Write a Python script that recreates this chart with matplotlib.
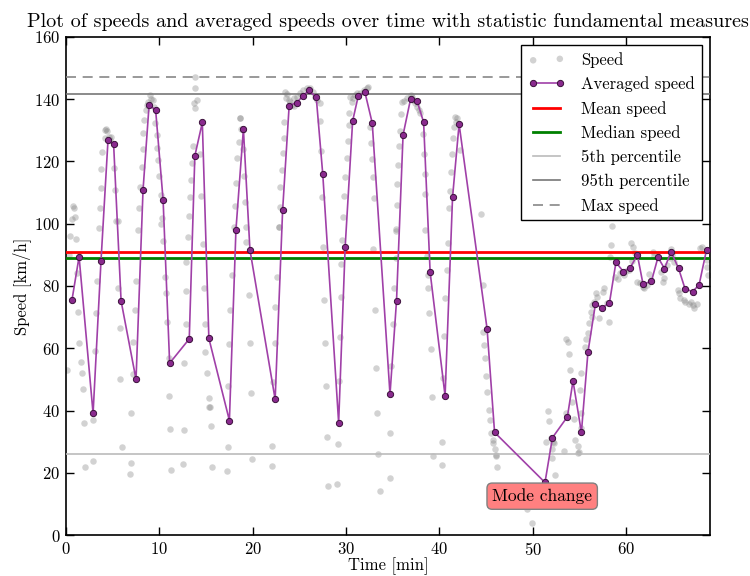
import matplotlib
matplotlib.use("Agg")
import matplotlib.pyplot as plt

plt.rcParams['font.family'] = 'serif'
plt.rcParams['font.serif'] = ['cmr10']
plt.rcParams['mathtext.fontset'] = 'cm'
plt.rcParams['axes.formatter.use_mathtext'] = True
plt.rcParams['axes.unicode_minus'] = False

# Raw speed samples (time [min], speed [km/h])
speed_t = [0.8, 0.85, 0.6, 1.0, 0.4, 1.1, 0.35, 1.2, 1.3, 1.4, 1.6, 1.7, 1.8, 0.15, 1.9, 2.0, 2.9, 2.9,
           3.1, 3.2, 3.35, 3.5, 3.6, 3.75, 3.8, 3.9, 4.2, 4.3, 4.4, 4.2, 4.6, 4.8, 4.7,
           5.1, 5.3, 5.4, 5.55, 5.6, 5.8, 5.8, 6.0, 7.0, 7.0, 6.9, 7.2, 7.2, 7.4, 7.5, 7.75,
           7.8, 7.9, 8.1, 8.2, 8.2, 8.4, 8.6, 8.65, 8.8, 9.1, 9.0,
           9.35, 9.4, 9.55, 9.7, 9.75, 9.9, 10.0, 10.15, 10.25, 10.2, 10.4, 10.6, 10.7, 10.8, 11.0, 11.0, 11.1, 11.25,
           12.6, 12.5, 12.6, 12.8, 12.9, 12.9, 13.1,
           13.2, 13.3, 13.4, 13.5, 13.6, 13.8, 13.7, 14.0, 13.8, 13.8, 14.4, 14.5,
           14.7, 14.8, 14.9, 14.9, 15.1, 15.3, 15.3, 15.4, 15.5, 15.6,
           17.2, 17.3, 17.4, 17.5, 17.6, 17.8,
           18.0, 18.1, 18.2, 18.3, 18.5, 18.7, 18.6, 18.65, 19.0, 19.0, 19.1, 19.2, 19.3, 19.3, 19.6, 19.7, 19.8, 19.9,
           22.1, 22.05, 22.2, 22.4, 22.4, 22.6, 22.8,
           22.8, 22.9, 22.95, 23.1, 23.2, 23.3, 23.3, 23.6, 23.5, 23.7, 23.9, 24.0, 24.2, 24.4, 24.4, 24.7, 25.1, 25.4,
           25.8, 26.1, 26.5, 26.7, 26.9, 27.2, 27.2, 27.3, 27.4,
           27.5, 27.6, 27.7, 27.8, 27.9, 28.1, 29.0, 29.1, 29.2, 29.3, 29.4, 29.5, 29.6,
           29.7, 29.8, 29.9, 30.1, 30.2, 30.3, 30.3, 30.4, 30.6, 30.7, 30.9, 31.2, 31.5, 31.9, 32.2, 32.3,
           32.6, 32.7, 32.8, 32.9, 32.95, 32.9, 33.1, 33.2, 33.3, 33.4, 33.6,
           34.65, 34.7, 34.8, 35.0, 35.1, 35.3, 35.3,
           35.3, 35.4, 35.5, 35.6, 35.7, 35.8, 35.9, 36.0, 36.2, 36.5, 36.9, 37.1, 37.2, 37.4, 37.6, 37.8, 37.9,
           38.2, 38.3, 38.4, 38.5, 38.5, 38.7, 38.8, 38.8, 38.9, 39.1, 39.2, 39.3,
           40.3, 40.3, 40.4, 40.5, 40.6, 40.8, 40.9,
           41.0, 41.1, 41.2, 41.3, 41.4, 41.6, 41.7, 41.9, 41.8, 42.2, 44.5,
           44.7, 44.7, 44.8, 44.9, 45.0, 45.1, 45.3, 45.4, 45.5, 45.7, 45.7, 45.9, 46.0, 46.1, 46.2, 46.4,
           49.4, 49.9, 51.6, 51.7, 51.4, 51.9, 52.2, 52.3, 52.1, 52.0, 52.4, 53.5, 53.3, 54.4, 54.5, 54.8, 54.8, 54.9,
           55.2, 55.2, 54.2,
           53.6, 53.8, 53.9, 54.0, 55.1, 55.2, 55.6, 55.7, 55.9, 56.0, 56.2, 56.3, 56.5, 56.8, 56.9, 56.3, 57.1, 57.6,
           57.5, 57.9, 58.2, 58.5, 58.4, 58.3,
           58.8, 59.1, 59.3, 59.6, 59.8, 60.0, 60.3, 60.5, 60.7, 60.9, 60.6,
           61.2, 61.5, 61.8, 61.9, 62.2, 62.4, 62.7, 62.9, 63.0, 63.3,
           63.7, 63.9, 64.1, 64.4, 64.7, 64.8, 64.9, 65.1, 65.5, 65.6, 65.8, 66.2, 66.3, 66.7, 66.9, 67.1, 67.3, 67.6,
           67.9, 68.1, 68.7, 68.7, 68.8]
speed_v = [105.8, 105.2, 101.5, 102, 96.2, 95.1, 90, 84.3, 71.7, 61.6, 55.5, 52, 46.8, 53, 36.1, 21.8, 37, 23.8,
           59.2, 71.4, 81.6, 98.7, 105, 111.5, 117.6, 123, 130.1, 130.4, 129.8, 127.4, 127.8, 128, 126.9,
           118, 110.7, 100.9, 101, 79.3, 66.4, 50, 28.2, 39.3, 23, 19.6, 51.6, 62.1, 72.3, 81.6, 98,
           105, 111.7, 118.1, 123.9, 129.1, 133.3, 136.5, 138.2, 139.2, 140.1, 141.4,
           139.8, 137.4, 132.3, 128.4, 124.2, 120.3, 115.4, 109.3, 101.7, 100, 94.5, 83, 77.6, 68.5, 56.8, 44.8, 34, 20.9,
           33.7, 22.8, 55.2, 67.7, 78.5, 87.8, 95.8,
           102.6, 108.7, 114.1, 119.4, 124.8, 137.3, 138.7, 139.8, 143.5, 147.0, 122.4, 109,
           93.5, 79.5, 67.8, 58.9, 52, 43.9, 41, 41, 35.1, 21.8,
           20.6, 28.4, 48, 61.4, 72.3, 83.5,
           99, 105.8, 113.2, 121, 126.3, 130.4, 133.9, 134.0, 130.1, 124, 115.2, 107, 99, 94.2, 77.1, 61.8, 45.5, 24.5,
           28.7, 22.2, 49.3, 61.6, 73.2, 82.8, 98.9,
           99.1, 105.5, 111.9, 117.3, 122.6, 127.6, 132.8, 140.3, 142.4, 141.6, 139.8, 139.2, 138.2, 137.8, 140.3, 140.8, 141.9, 143,
           143.5, 143.7, 142.4, 140.8, 139.8, 138.9, 133.1, 123.2, 108.5,
           92.4, 75.5, 61.8, 48, 31.6, 15.7, 16.4, 29.4, 49.6, 63.7, 76.6, 87, 94.8,
           102.3, 108.9, 115.1, 121, 126.4, 131.7, 135.5, 140.8, 139.2, 140.3, 141.4, 141.9, 142.1, 143, 143.5, 144,
           131.2, 125.9, 120.7, 115.1, 108.2, 92, 72.3, 53.8, 39.1, 26.2, 14.2,
           18.3, 32.7, 54.4, 67.7, 79.3, 88.9, 97.8,
           98.2, 106, 112.8, 118.9, 124.8, 129.9, 135.3, 139.2, 139.5, 140.3, 141.4, 140.8, 139.8, 138.7, 137.6, 136.5, 135.5,
           128.8, 122.4, 116, 109.5, 98, 89.6, 83.5, 79.3, 71.4, 59.7, 44.4, 25.4,
           30, 22.4, 50.3, 64, 76, 85.1, 93.9,
           105, 110.5, 116.5, 122.3, 127.6, 131.2, 134.4, 133.9, 132.8, 123.7, 103,
           80.3, 65.3, 61, 56.8, 51.1, 45.8, 40.2, 36.9, 32.9, 30.7, 29.5, 27.5, 25.7, 25.4, 21.9, 14.7,
           8.3, 3.8, 40, 36.7, 29.9, 31.1, 30, 29.5, 27.5, 24.6, 19.2, 39.3, 27.1, 37.2, 30.5, 28.6, 26.4, 26.8,
           39.1, 34.3, 42.8,
           62.9, 61.9, 58.2, 53, 46.6, 52, 60.5, 62.9, 65, 68, 71.7, 73.9, 75, 77.7, 76.6, 70.1, 69.8, 79.3,
           78.2, 74.6, 68.5, 99.3, 93.2, 89.4,
           83, 82.2, 84.1, 84.6, 83.5, 84.9, 85.1, 93.7, 92.6, 90.5, 88.1,
           81.4, 80.9, 79.8, 79.3, 80.3, 83.9, 81.9, 91, 89.6, 89.2,
           84.6, 81.4, 82.5, 86.8, 88.9, 91.9, 90, 87.8, 78.7, 77.6, 76, 75.5, 74.7, 74.1, 74.9, 73.8, 72.8, 74.3,
           92.3, 92.6, 88.4, 86.2, 83.5]

# Averaged speed
avg_t = [0.64, 1.4, 2.9, 3.75, 4.5, 5.1, 5.9, 7.5, 8.25, 8.9,
         9.6, 10.4, 11.1, 13.2, 13.8, 14.6, 15.3, 17.5, 18.2, 19.0,
         19.7, 22.4, 23.2, 23.9, 24.7, 25.4, 26.0, 26.8, 27.5, 29.2,
         29.9, 30.7, 31.3, 32.0, 32.8, 34.7, 35.4, 36.1, 36.9, 37.6,
         38.3, 39.0, 40.6, 41.4, 42.1, 45.1, 45.9, 51.3, 52.1, 53.7,
         54.3, 55.2, 55.9, 56.7, 57.4, 58.2, 58.9, 59.7, 60.4, 61.2,
         61.8, 62.7, 63.4, 64.1, 64.8, 65.6, 66.3, 67.1, 67.8, 68.6]
avg_v = [75.5, 89.4, 39.1, 88.1, 126.9, 125.5, 75.2, 50.0, 110.8, 138.2,
         136.5, 107.6, 55.2, 63.0, 121.8, 132.5, 63.2, 36.8, 98.0, 130.4,
         91.6, 43.6, 104.3, 137.9, 138.9, 141.0, 142.8, 140.6, 115.9, 36.1,
         92.6, 133.0, 141.0, 142.4, 132.3, 45.2, 75.3, 128.5, 140.0, 139.4,
         132.6, 84.4, 44.7, 108.5, 132.0, 66.2, 33.0, 16.9, 31.3, 38.0,
         49.5, 33.0, 58.7, 74.2, 73.0, 74.5, 87.6, 84.6, 85.8, 89.9,
         80.6, 81.5, 89.2, 85.6, 91.0, 85.7, 79.1, 78.2, 80.3, 91.6]

# Statistic measures
stat_labels = ['Mean speed', 'Median speed', '5th percentile', '95th percentile', 'Max speed']
stat_values = [90.9, 89.0, 26.0, 141.7, 147.1]

annot_text = 'Mode change'
annot_pos = (51.0, 12.5)

fig = plt.figure(figsize=(7.5, 5.76), dpi=100)
ax = fig.add_axes([0.088, 0.071, 0.859, 0.865])

ax.scatter(speed_t, speed_v, s=22, color='gray', alpha=0.35, linewidths=0, label='Speed', zorder=2)
ax.plot(avg_t, avg_v, '-o', color='#a040a8', lw=1.2, markersize=4.5,
        markerfacecolor='#8a2a8e', markeredgecolor='#3a103a', markeredgewidth=0.7,
        label='Averaged speed', zorder=4)
styles = [dict(color='red', lw=2), dict(color='green', lw=2),
          dict(color='#bbbbbb', lw=1.2), dict(color='#777777', lw=1.2),
          dict(color='#888888', lw=1.2, ls=(0, (6, 4)))]
for lab, val, st in zip(stat_labels, stat_values, styles):
    ax.axhline(val, label=lab, zorder=3, **st)

ax.text(annot_pos[0], annot_pos[1], annot_text, ha='center', va='center', fontsize=12.5,
        bbox=dict(boxstyle='round,pad=0.3', fc=(1, 0.5, 0.5), ec=(0.5, 0.5, 0.5)), zorder=6)

ax.set_xlim(0, 69)
ax.set_ylim(0, 160)
ax.set_xticks([0, 10, 20, 30, 40, 50, 60])
ax.set_yticks([0, 20, 40, 60, 80, 100, 120, 140, 160])
ax.tick_params(direction='in', top=True, right=True, length=6, width=1, labelsize=12, pad=4)
for s in ax.spines.values():
    s.set_linewidth(1.2)
ax.set_xlabel('Time [min]', fontsize=12, labelpad=0)
ax.set_ylabel('Speed [km/h]', fontsize=12, labelpad=2)
ax.set_title('Plot of speeds and averaged speeds over time with statistic fundamental measures',
             fontsize=14.5, pad=7)

leg = ax.legend(loc='upper right', numpoints=2, scatterpoints=2, fancybox=False, framealpha=1,
                edgecolor='black', fontsize=12, borderaxespad=0.5, handlelength=2.2,
                labelspacing=0.52, borderpad=0.4, handletextpad=1.0)
leg.get_frame().set_linewidth(1.0)
leg.set_zorder(10)

fig.savefig('out.png', dpi=100)
